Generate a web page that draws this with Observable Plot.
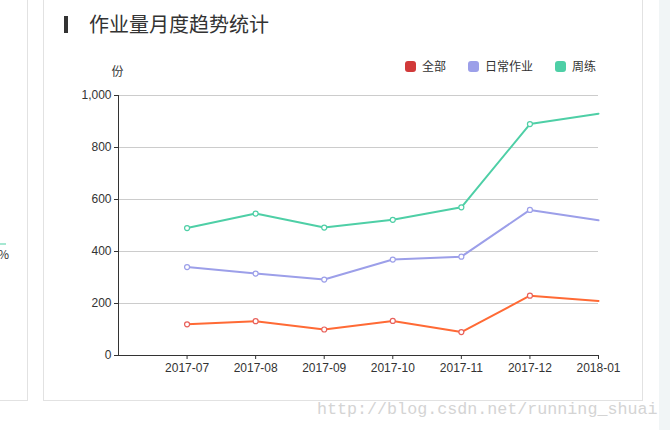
<!DOCTYPE html>
<html>
<head>
<meta charset="utf-8">
<script src="https://cdn.jsdelivr.net/npm/d3@7"></script>
<script src="https://cdn.jsdelivr.net/npm/@observablehq/plot@0.6"></script>
<style>
  html, body { margin: 0; padding: 0; width: 670px; height: 430px; overflow: hidden; background: #fff;
    font-family: "Noto Sans CJK SC", "Noto Sans", sans-serif; }
  .abs { position: absolute; }
</style>
</head>
<body>
<div class="abs" style="left:-10px;top:-10px;width:37px;height:410px;border-right:1px solid #e2e2e2;border-bottom:1px solid #e2e2e2;"></div>
<div class="abs" style="left:0;top:243px;width:6px;height:2px;background:#a6e8d2;"></div>
<div class="abs" style="left:-2px;top:245px;font-size:12px;color:#333;line-height:18px;">%</div>
<div class="abs" style="left:43px;top:-10px;width:598px;height:410px;border-left:1px solid #e2e2e2;border-right:1px solid #e2e2e2;border-bottom:1px solid #e2e2e2;"></div>
<div class="abs" style="left:659px;top:0;width:11px;height:430px;background:#f1f5f6;"></div>
<div class="abs" style="left:64px;top:16px;width:4px;height:17px;background:#333;"></div>
<div class="abs" style="left:89px;top:9px;font-size:20px;color:#333;line-height:30px;">作业量月度趋势统计</div>
<div id="chart" class="abs" style="left:0;top:0;"></div>
<div id="legend" class="abs" style="left:405px;top:57px;font-size:12px;color:#333;display:flex;align-items:center;line-height:18px;"></div>
<div class="abs" style="left:317px;top:400px;font-family:'Liberation Mono','DejaVu Sans Mono',monospace;font-size:16.7px;color:#d4d4d4;line-height:20px;">http://blog.csdn.net/running_shuai</div>
<script>
const months = ["2017-07", "2017-08", "2017-09", "2017-10", "2017-11", "2017-12", "2018-01"];
const seriesNames = ["全部", "日常作业", "周练"];
const allValues = [120, 132, 100, 133, 90, 230, 210];
const dailyValues = [340, 315, 292, 369, 380, 560, 520];
const weeklyValues = [490, 546, 492, 522, 570, 890, 930];
const yTicks = [0, 200, 400, 600, 800, 1000];

const lineColors = {"全部": "#ff6a35", "日常作业": "#9c9fe9", "周练": "#4ecfa6"};
const dotColors = {"全部": "#e8605a", "日常作业": "#9c9fe9", "周练": "#4ecfa6"};
const legendColors = {"全部": "#d13a3a", "日常作业": "#9c9fe9", "周练": "#4ecfa6"};

const valuesBySeries = {"全部": allValues, "日常作业": dailyValues, "周练": weeklyValues};
const data = [];
for (const s of seriesNames) {
  valuesBySeries[s].forEach((v, i) => data.push({series: s, month: months[i], idx: i + 1, value: v}));
}

const chart = Plot.plot({
  width: 670,
  height: 430,
  marginLeft: 118,
  marginRight: 72,
  marginTop: 95,
  marginBottom: 75,
  style: {background: "transparent", fontSize: "12px", fontFamily: "'Liberation Sans', 'Noto Sans CJK SC', sans-serif", color: "#333"},
  x: {domain: [0, 7], label: null},
  y: {domain: [0, 1000], label: null},
  marks: [
    Plot.ruleY(yTicks.filter(d => d > 0), {stroke: "#cccccc", strokeWidth: 1}),
    Plot.line(data, {x: "idx", y: "value", z: "series", stroke: d => lineColors[d.series], strokeWidth: 2}),
    Plot.dot(data.filter(d => d.idx < months.length), {x: "idx", y: "value", r: 2.5, fill: "white", stroke: d => dotColors[d.series], strokeWidth: 1.2}),
    Plot.axisX({ticks: months.map((m, i) => i + 1), tickFormat: d => months[d - 1], tickSize: 4, tickPadding: 4, stroke: "#333", color: "#333", label: null}),
    Plot.axisY({ticks: yTicks, tickFormat: d3.format(","), tickSize: 4, tickPadding: 3, stroke: "#333", color: "#333", label: null}),
    Plot.ruleX([0], {stroke: "#333"}),
    Plot.ruleY([0], {stroke: "#333"}),
    Plot.text(["份"], {frameAnchor: "top-left", dx: -1, dy: -28, fontSize: 12, fill: "#333", textAnchor: "middle", fontFamily: "'Noto Sans CJK SC', sans-serif"})
  ]
});
document.getElementById("chart").appendChild(chart);

const legend = document.getElementById("legend");
seriesNames.forEach((s, i) => {
  const sw = document.createElement("span");
  sw.style.cssText = `display:inline-block;width:11px;height:11px;border-radius:3px;background:${legendColors[s]};margin-right:6px;margin-left:${i ? 22 : 0}px;`;
  const t = document.createElement("span");
  t.textContent = s;
  legend.appendChild(sw);
  legend.appendChild(t);
});
</script>
</body>
</html>
